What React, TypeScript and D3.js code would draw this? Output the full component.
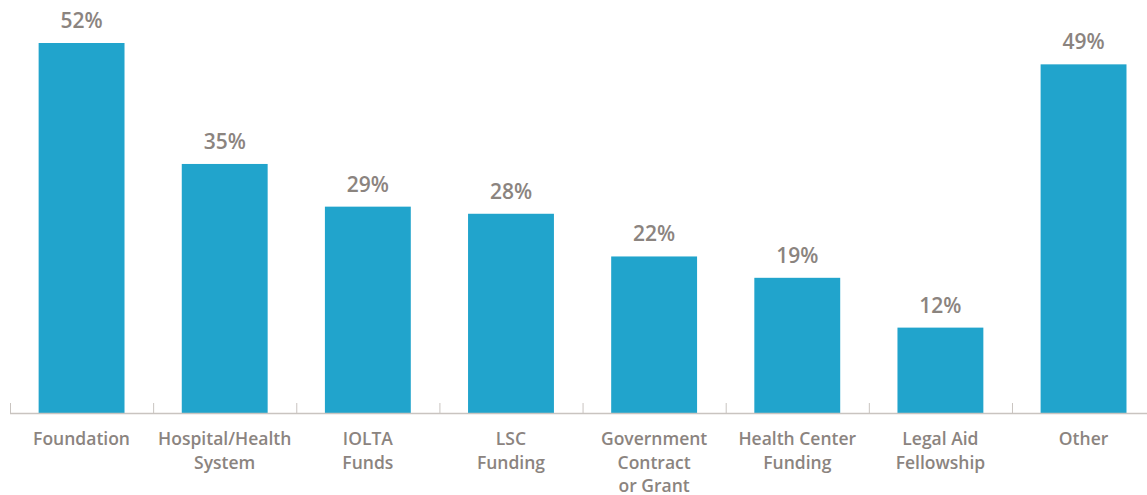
import React from "react";
import * as d3 from "d3";

const categories: string[][] = [
  ["Foundation"],
  ["Hospital/Health", "System"],
  ["IOLTA", "Funds"],
  ["LSC", "Funding"],
  ["Government", "Contract", "or Grant"],
  ["Health Center", "Funding"],
  ["Legal Aid", "Fellowship"],
  ["Other"],
];
const values: number[] = [52, 35, 29, 28, 22, 19, 12, 49];

const W = 1147;
const H = 495;
const baseY = 413;
const topY = 43;
const barColor = "#21a4cc";
const textColor = "#8b847f";
const axisColor = "#c9c4c0";
const font = "'Open Sans', sans-serif";

export default function App() {
  const keys = categories.map((c) => c.join(" "));
  const x = d3.scaleBand<string>().domain(keys).range([10, 10 + 143.14 * 8]).paddingInner(0.4).paddingOuter(0.2);
  const y = d3.scaleLinear().domain([0, 52]).range([baseY, topY]);
  const step = x.step();
  return (
    <svg width={W} height={H} style={{ position: "absolute", left: 0, top: 0 }}>
      {keys.map((k, i) => (
        <g key={k}>
          <rect x={x(k)} y={y(values[i])} width={x.bandwidth()} height={baseY - y(values[i])} fill={barColor} />
          <text
            x={(x(k) as number) + x.bandwidth() / 2}
            y={y(values[i]) - 15}
            textAnchor="middle"
            fontFamily={font}
            fontWeight={600}
            fontSize={21}
            fill={textColor}
          >
            {values[i]}%
          </text>
          {categories[i].map((line, j) => (
            <text
              key={j}
              x={(x(k) as number) + x.bandwidth() / 2}
              y={445 + j * 23.5}
              textAnchor="middle"
              fontFamily={font}
              fontWeight={600}
              fontSize={17.5}
              fill={textColor}
            >
              {line}
            </text>
          ))}
          <line
            x1={(x(k) as number) - step * 0.2 + 0.5}
            x2={(x(k) as number) - step * 0.2 + 0.5}
            y1={baseY - 10}
            y2={baseY}
            stroke={axisColor}
            strokeWidth={1}
          />
        </g>
      ))}
      <line x1={10} x2={W} y1={baseY + 0.5} y2={baseY + 0.5} stroke={axisColor} strokeWidth={1.5} />
    </svg>
  );
}
